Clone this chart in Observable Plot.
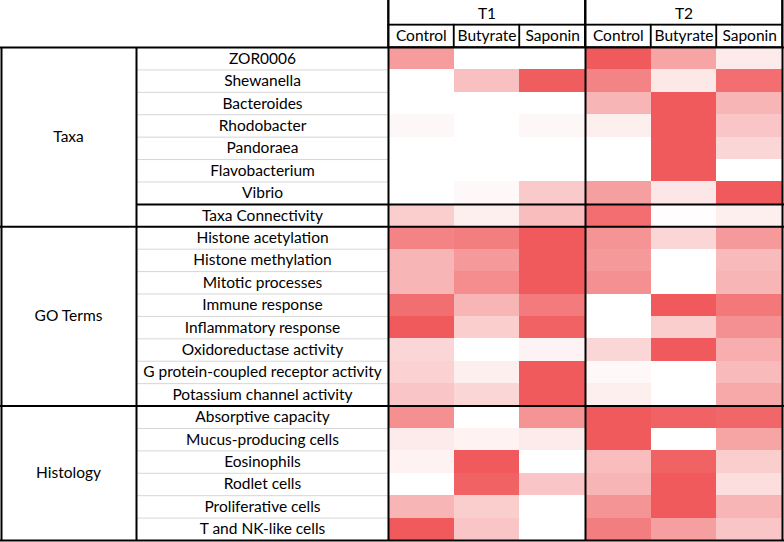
<!DOCTYPE html>
<html>
<head>
<meta charset="utf-8">
<script src="https://cdn.jsdelivr.net/npm/d3@7"></script>
<script src="https://cdn.jsdelivr.net/npm/@observablehq/plot@0.6"></script>
<style>
  body { margin: 0; background: #ffffff; }
  #chart svg { display: block; }
</style>
</head>
<body>
<div id="chart"></div>
<script>
// ---- data ----
const groups = ["Taxa", "GO Terms", "Histology"];
const groupSizes = [8, 8, 6];
const rowLabels = [
  "ZOR0006", "Shewanella", "Bacteroides", "Rhodobacter", "Pandoraea", "Flavobacterium", "Vibrio",
  "Taxa Connectivity",
  "Histone acetylation", "Histone methylation", "Mitotic processes", "Immune response",
  "Inflammatory response", "Oxidoreductase activity", "G protein-coupled receptor activity",
  "Potassium channel activity",
  "Absorptive capacity", "Mucus-producing cells", "Eosinophils", "Rodlet cells",
  "Proliferative cells", "T and NK-like cells"
];
const subgroupBreaks = [7]; // line between Vibrio and Taxa Connectivity
const timepoints = ["T1", "T2"];
const treatments = ["Control", "Butyrate", "Saponin"];

// relative intensity (0 = white, 1 = full red), one array per column
const t1Control  = [0.60, 0.00, 0.00, 0.05, 0.00, 0.00, 0.00, 0.30,
                    0.75, 0.45, 0.45, 0.87, 1.00, 0.25, 0.28, 0.35,
                    0.68, 0.13, 0.08, 0.00, 0.45, 1.00];
const t1Butyrate = [0.00, 0.38, 0.00, 0.00, 0.00, 0.00, 0.04, 0.10,
                    0.78, 0.62, 0.70, 0.45, 0.30, 0.00, 0.10, 0.25,
                    0.00, 0.08, 1.00, 0.95, 0.30, 0.35];
const t1Saponin  = [0.00, 0.98, 0.00, 0.05, 0.00, 0.00, 0.33, 0.40,
                    1.00, 1.00, 1.00, 0.80, 0.95, 0.07, 1.00, 1.00,
                    0.65, 0.13, 0.00, 0.35, 0.00, 0.00];
const t2Control  = [1.00, 0.75, 0.45, 0.10, 0.00, 0.00, 0.58, 0.88,
                    0.65, 0.62, 0.67, 0.00, 0.00, 0.25, 0.04, 0.10,
                    1.00, 1.00, 0.40, 0.45, 0.65, 0.78];
const t2Butyrate = [0.55, 0.14, 1.00, 1.00, 1.00, 1.00, 0.15, 0.01,
                    0.25, 0.00, 0.00, 1.00, 0.30, 1.00, 0.00, 0.00,
                    0.95, 0.00, 0.95, 1.00, 1.00, 0.58];
const t2Saponin  = [0.12, 0.88, 0.45, 0.35, 0.25, 0.00, 1.00, 0.10,
                    0.62, 0.42, 0.45, 0.82, 0.67, 0.50, 0.42, 0.52,
                    0.92, 0.55, 0.30, 0.20, 0.45, 0.35];

// ---- derived tables ----
const columnValues = [t1Control, t1Butyrate, t1Saponin, t2Control, t2Butyrate, t2Saponin];
const cells = [];
columnValues.forEach((vals, j) => vals.forEach((v, i) => cells.push({j, i, v, row: rowLabels[i]})));
const headerCols = columnValues.map((_, j) => ({j, label: treatments[j % treatments.length]}));
const timeHeaders = timepoints.map((t, k) => ({k, label: t}));
let acc = 0;
const groupSpans = groups.map((g, gi) => { const s = acc; acc += groupSizes[gi]; return {g, s, e: acc}; });
const groupBreaks = [0, ...groupSpans.map(d => d.e)];
const thinLines = [];
groupSpans.forEach(d => { for (let r = d.s + 1; r < d.e; r++) if (!subgroupBreaks.includes(r)) thinLines.push(r); });
const nCols = columnValues.length;
const perTime = treatments.length;

const chart = Plot.plot({
  width: 784,
  height: 542,
  margin: 0,
  style: {fontFamily: "Lato, 'Open Sans', sans-serif", fontSize: "15.5px", color: "#000"},
  x: {type: "linear", domain: [0, nCols], range: [388, 782], axis: null},
  y: {type: "linear", domain: [-2, rowLabels.length], range: [2.2, 540], axis: null},
  color: {type: "linear", domain: [0, 1], range: ["#ffffff", "#f05a5c"], interpolate: "rgb"},
  marks: [
    Plot.rect(cells, {x1: "j", x2: d => d.j + 1, y1: "i", y2: d => d.i + 1, fill: "v", shapeRendering: "crispEdges"}),
    Plot.ruleY(thinLines, {y: d => d, insetLeft: 137, insetRight: 396, stroke: "#d6d6d6", strokeWidth: 1}),
    Plot.ruleY(groupBreaks, {y: d => d, stroke: "#000", strokeWidth: 2}),
    Plot.ruleY(subgroupBreaks, {y: d => d, insetLeft: 136, stroke: "#000", strokeWidth: 2}),
    Plot.ruleX(d3.range(0, nCols + 1, perTime), {x: d => d, y1: -2.3, y2: rowLabels.length, stroke: "#000", strokeWidth: 2}),
    Plot.ruleX([0], {x: d => d, y1: 0, y2: rowLabels.length, dx: -387, stroke: "#000", strokeWidth: 2}),
    Plot.ruleX([0], {x: d => d, y1: 0, y2: rowLabels.length, dx: -252, stroke: "#000", strokeWidth: 2}),
    Plot.rect(headerCols, {x1: "j", x2: d => d.j + 1, y1: -1, y2: 0, fill: "none", stroke: "#000", strokeWidth: 1.5}),
    Plot.rect(timeHeaders, {x1: d => d.k * perTime, x2: d => (d.k + 1) * perTime, y1: -2.3, y2: -1, fill: "none", stroke: "#000", strokeWidth: 1.5}),
    Plot.text(headerCols, {x: d => d.j + 0.5, y: -0.5, text: "label", fill: "#000"}),
    Plot.text(timeHeaders, {x: d => d.k * perTime + perTime / 2, y: -1.5, text: "label", fill: "#000"}),
    Plot.text(rowLabels, {y: (d, i) => i + 0.5, text: d => d, frameAnchor: "left", dx: 262, textAnchor: "middle", fill: "#000"}),
    Plot.text(groupSpans, {y: d => (d.s + d.e) / 2, text: "g", frameAnchor: "left", dx: 68, textAnchor: "middle", fill: "#000"})
  ]
});
document.getElementById("chart").appendChild(chart);
</script>
</body>
</html>
